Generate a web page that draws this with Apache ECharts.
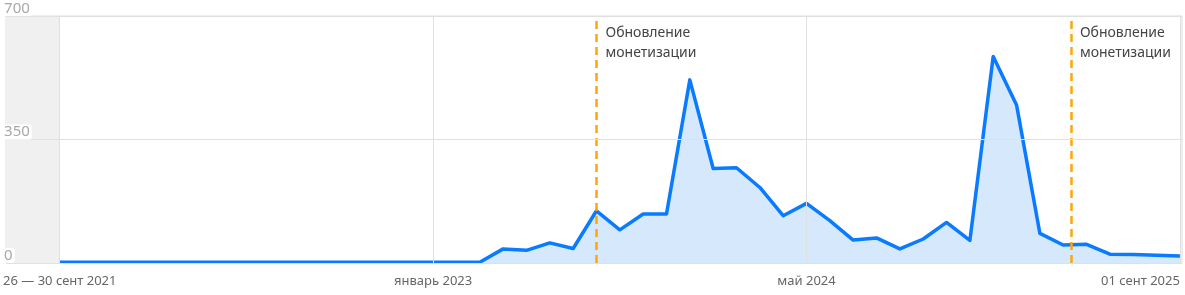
<!DOCTYPE html>
<html><head><meta charset="utf-8">
<script src="https://cdn.jsdelivr.net/npm/echarts@6/dist/echarts.min.js"></script>
<style>html,body{margin:0;padding:0;background:#fff}#c{width:1185px;height:295px}</style>
</head><body><div id="c"></div>
<script>
// monthly points, Sep 2021 .. Sep 2025
const values = [2,2,2,2,2,2,2,2,2,2,2,2,2,2,2,2,2,2,2,
  40,36,57,41,148,94,139,139,519,268,270,214,134,169,120,65,71,40,68,115,64,585,448,84,51,53,25,24,22,20];
const tickPositions = [0, 16, 32, 48];
const tickLabels = ['26 — 30 сент 2021', 'январь 2023', 'май 2024', '01 сент 2025'];
const yTicks = [0, 350, 700];
const updatePositions = [23, 43.33];
const updateLabel = 'Обновление\nмонетизации';

const data = values.map((v, i) => [i, v]);
const labelMap = {};
tickPositions.forEach((p, i) => labelMap[p] = tickLabels[i]);

const chart = echarts.init(document.getElementById('c'));
chart.setOption({
  animation: false,
  grid: { left: 2, right: 3, top: 16, bottom: 32, show: true, borderColor: '#dcdcdc', borderWidth: 1 },
  xAxis: {
    type: 'value', min: -2.3, max: 48.09,
    axisLine: { show: false }, axisTick: { show: false },
    splitLine: { show: false },
    axisLabel: {
      customValues: tickPositions,
      formatter: v => labelMap[v] || '',
      color: '#666', fontSize: 13, fontFamily: 'Noto Sans', margin: 12,
      alignMaxLabel: 'right'
    }
  },
  yAxis: {
    type: 'value', min: 0, max: 700, interval: 350, z: 20,
    axisLine: { show: false }, axisTick: { show: false },
    splitLine: { lineStyle: { color: '#e0e0e0' } },
    axisLabel: {
      inside: true, verticalAlign: 'bottom', align: 'left', margin: -3,
      customValues: yTicks,
      color: '#a8a8a8', fontSize: 15, fontFamily: 'Noto Sans',
      backgroundColor: '#fff', padding: [0, 2, 0, 1], borderRadius: 2
    }
  },
  series: [{
    type: 'line', data: data, symbol: 'none', smooth: false,
    lineStyle: { color: '#0a7bff', width: 3.5, join: 'round' },
    areaStyle: { color: '#d6e8fc', opacity: 1 },
    z: 3,
    markArea: {
      silent: true, itemStyle: { color: '#f0f0f0' },
      data: [[{ xAxis: -2.3 }, { xAxis: 0 }]]
    },
    markLine: {
      silent: true, symbol: 'none', animation: false,
      label: { show: false },
      data: tickPositions.map(p => ({ xAxis: p, lineStyle: { color: '#e0e0e0', width: 1, type: 'solid' } }))
        .concat(updatePositions.map(p => ({ xAxis: p, lineStyle: { color: '#ffa50a', width: 2.5, type: [8, 5] } })))
    },
    markPoint: {
      silent: true, symbol: 'rect', symbolSize: 0,
      data: updatePositions.map(p => ({
        coord: [p, 700],
        label: {
          show: true, formatter: updateLabel, position: [9, 7], align: 'left', verticalAlign: 'top',
          color: '#444', fontSize: 14, lineHeight: 20, fontFamily: 'Noto Sans'
        }
      }))
    }
  }]
});
</script></body></html>
